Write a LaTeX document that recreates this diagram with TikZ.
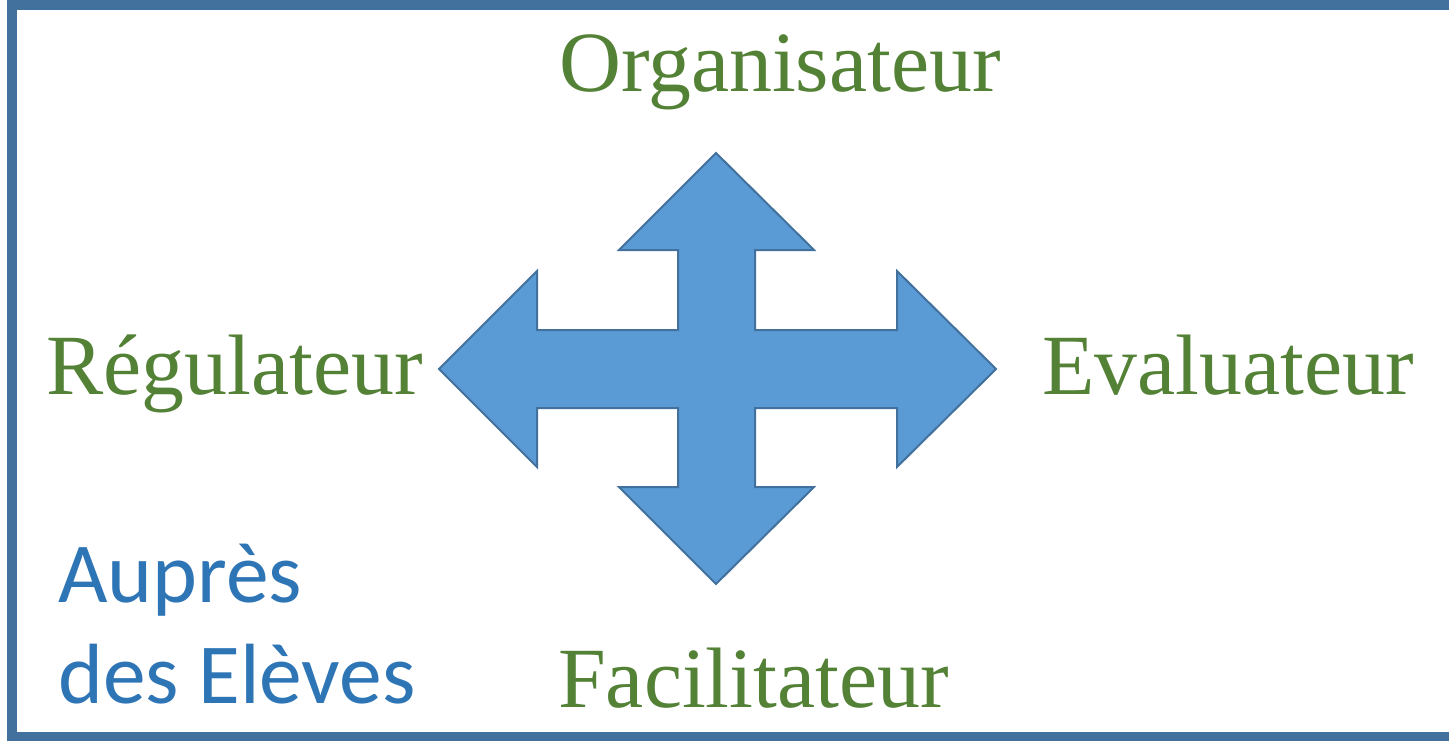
\documentclass[tikz,border=0pt]{standalone}
\usepackage{fontspec}
\setmainfont{Liberation Serif}
\newfontfamily\calib{Carlito}
\definecolor{frameblue}{HTML}{41719C}
\definecolor{arrowfill}{HTML}{5B9BD5}
\definecolor{rolegreen}{HTML}{538135}
\definecolor{textblue}{HTML}{2E75B6}
\tikzset{
  role/.style={anchor=base west, inner sep=0pt, text=rolegreen, font=\fontsize{85.8}{100}\selectfont},
  side/.style={anchor=base west, inner sep=0pt, text=textblue, font=\calib\fontsize{85.5}{100}\selectfont},
  cross/.style={fill=arrowfill, draw=frameblue, line width=2pt, line join=miter},
  frame/.style={draw=frameblue, line width=10pt}
}
\begin{document}
\begin{tikzpicture}[x=1pt,y=-1pt]
\useasboundingbox (0,0) rectangle (1449,741);
\draw[frame] (1460,5) -- (12,5) -- (12,737) -- (1460,737);
\draw[cross] (716,153) -- (814,250) -- (755,250) -- (755,330) -- (897,330) -- (897,271)
  -- (996,369) -- (897,467) -- (897,408) -- (755,408) -- (755,487) -- (814,487)
  -- (716,584) -- (619,487) -- (678,487) -- (678,408) -- (537,408) -- (537,467)
  -- (439,369) -- (537,271) -- (537,330) -- (678,330) -- (678,250) -- (619,250) -- cycle;
\node[role] (org) at (559,92) {Organisateur};
\node[role] (reg) at (46,394) {Régulateur};
\node[role] (eva) at (1042,394) {Evaluateur};
\node[role] (fac) at (558,707) {Facilitateur};
\node[side] (aup) at (58,602) {Auprès};
\node[side] (des) at (58,703) {des Elèves};
\end{tikzpicture}
\end{document}
